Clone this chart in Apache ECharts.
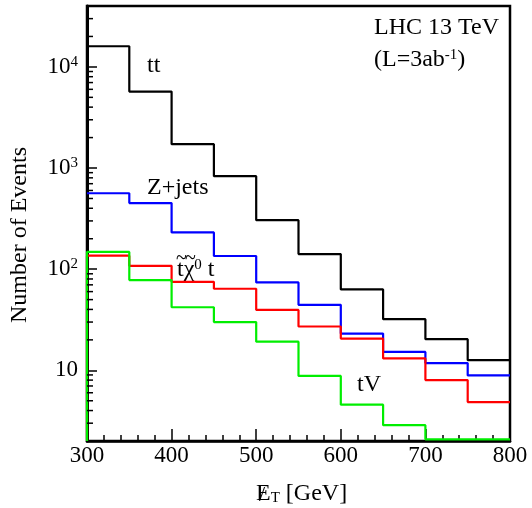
<!DOCTYPE html>
<html>
<head>
<meta charset="utf-8">
<script src="https://cdn.jsdelivr.net/npm/echarts@6/dist/echarts.min.js"></script>
<style>html,body{margin:0;padding:0;background:#fff}#main{width:532px;height:508px}</style>
</head>
<body>
<div id="main"></div>
<script>
// Bin edges of the missing-E_T histogram (GeV)
const binEdges = [300, 350, 400, 450, 500, 550, 600, 650, 700, 750, 800];
// Events per bin
const ttValues     = [16000, 5700, 1720, 830, 305, 141, 63, 32, 20.3, 12.6];
const zjetsValues  = [563, 450, 231, 135, 74, 44.4, 23.1, 15.2, 11.8, 8.9];
const signalValues = [136, 108, 75, 64, 39.5, 27.1, 20.6, 13.1, 8.0, 4.85];
const tvValues     = [148, 78, 42, 30, 19.2, 8.8, 4.57, 2.87, 2.08, 2.08];
const yTickLabels = {10: '10', 100: '10{sup|2}', 1000: '10{sup|3}', 10000: '10{sup|4}'};

const Y_MIN = 2, Y_MAX = 40000;
const FONT = 'Liberation Serif';

function stepData(values, fromBottom) {
  const d = fromBottom ? [[binEdges[0], Y_MIN]] : [];
  values.forEach((v, i) => d.push([binEdges[i], v]));
  d.push([binEdges[binEdges.length - 1], values[values.length - 1]]);
  return d;
}

// minor tick positions of the log axis (2..9 x 10^n)
const minorTicks = [];
for (let e = 0; e <= 4; e++) {
  for (let m = 2; m <= 9; m++) {
    const v = m * Math.pow(10, e);
    if (v > Y_MIN && v < Y_MAX) minorTicks.push(v);
  }
}

function lineSeries(name, values, color, fromBottom) {
  return {
    name: name, type: 'line', step: 'end', symbol: 'none',
    data: stepData(values, fromBottom),
    lineStyle: {color: color, width: 2.2},
    clip: true, z: 3, animation: false
  };
}

const supStyle = {fontFamily: FONT, fontSize: 15, fill: '#000', verticalAlign: 'top', padding: [0, 0, 10, 0]};
const chart = echarts.init(document.getElementById('main'), null, {renderer: 'canvas'});
chart.setOption({
  animation: false,
  backgroundColor: '#fff',
  grid: {left: 87, right: 22, top: 6, bottom: 67, show: true, borderColor: '#000', borderWidth: 2.5, backgroundColor: 'transparent'},
  xAxis: {
    type: 'value', min: 300, max: 800, interval: 100,
    axisLine: {show: true, lineStyle: {color: '#000', width: 2.5}},
    axisTick: {show: true, inside: true, length: 12, lineStyle: {color: '#000', width: 1.5}},
    minorTick: {show: true, splitNumber: 5, length: 6, lineStyle: {color: '#000', width: 1.5}},
    splitLine: {show: false},
    axisLabel: {color: '#000', fontFamily: FONT, fontSize: 23, margin: 3}
  },
  yAxis: {
    type: 'log', logBase: 10, min: Y_MIN, max: Y_MAX,
    axisLine: {show: true, lineStyle: {color: '#000', width: 3}},
    axisTick: {show: true, inside: true, length: 10, lineStyle: {color: '#000', width: 1.5}},
    splitLine: {show: false},
    minorTick: {show: false},
    axisLabel: {
      color: '#000', fontFamily: FONT, fontSize: 23, margin: 9,
      formatter: function (v) {
        const k = Math.round(v);
        return yTickLabels[k] !== undefined && Math.abs(v - k) < 1e-6 * k ? yTickLabels[k] : '';
      },
      rich: {sup: {fontSize: 15, fontFamily: FONT, color: '#000', verticalAlign: 'top', padding: [0, 0, 10, 0]}}
    }
  },
  series: [
    lineSeries('tt', ttValues, '#000000', false),
    lineSeries('Z+jets', zjetsValues, '#0000ff', false),
    lineSeries('signal', signalValues, '#ff0000', true),
    lineSeries('tV', tvValues, '#00ee00', true),
    {
      type: 'custom', data: minorTicks.map(v => [300, v]), z: 4, silent: true, animation: false,
      renderItem: function (params, api) {
        const p = api.coord([api.value(0), api.value(1)]);
        return {type: 'line', shape: {x1: p[0], y1: p[1], x2: p[0] + 6, y2: p[1]}, style: {stroke: '#000', lineWidth: 1.5}};
      }
    }
  ],
  graphic: [
    {type: 'text', x: 147, y: 66, style: {text: 'tt', font: '24px "Liberation Serif"', fill: '#000', verticalAlign: 'middle'}},
    {type: 'text', x: 147, y: 188, style: {text: 'Z+jets', font: '24px "Liberation Serif"', fill: '#000', verticalAlign: 'middle'}},
    {type: 'text', x: 177, y: 270, style: {
      text: '{n|t\u03c7}{s|0}{n| t}', fill: '#000', verticalAlign: 'middle',
      rich: {n: {fontFamily: FONT, fontSize: 24, fill: '#000'}, s: supStyle}
    }},
    {type: 'text', x: 176, y: 259, style: {text: '~', font: '20px "Liberation Serif"', fill: '#000', verticalAlign: 'middle'}},
    {type: 'text', x: 185, y: 259, style: {text: '~', font: '20px "Liberation Serif"', fill: '#000', verticalAlign: 'middle'}},
    {type: 'text', x: 357, y: 385, style: {text: 'tV', font: '24px "Liberation Serif"', fill: '#000', verticalAlign: 'middle'}},
    {type: 'text', x: 374, y: 28, style: {text: 'LHC 13 TeV', font: '24px "Liberation Serif"', fill: '#000', verticalAlign: 'middle'}},
    {type: 'text', x: 374, y: 60, style: {
      text: '{n|(L=3ab}{s|-1}{n|)}', fill: '#000', verticalAlign: 'middle',
      rich: {n: {fontFamily: FONT, fontSize: 24, fill: '#000'}, s: supStyle}
    }},
    {type: 'text', x: 20, y: 235, rotation: Math.PI / 2, style: {text: 'Number of Events', font: '24px "Liberation Serif"', fill: '#000', align: 'center', verticalAlign: 'middle'}},
    {type: 'text', x: 256, y: 494, style: {
      text: '{n|E}{s|T}{n| [GeV]}', fill: '#000', verticalAlign: 'middle',
      rich: {n: {fontFamily: FONT, fontSize: 24, fill: '#000'}, s: {fontFamily: FONT, fontSize: 15, fill: '#000', verticalAlign: 'bottom', padding: [8, 0, 0, 0]}}
    }},
    {type: 'text', x: 259, y: 495, style: {text: '/', font: '22px "Liberation Serif"', fill: '#000', verticalAlign: 'middle'}}
  ]
});
</script>
</body>
</html>
